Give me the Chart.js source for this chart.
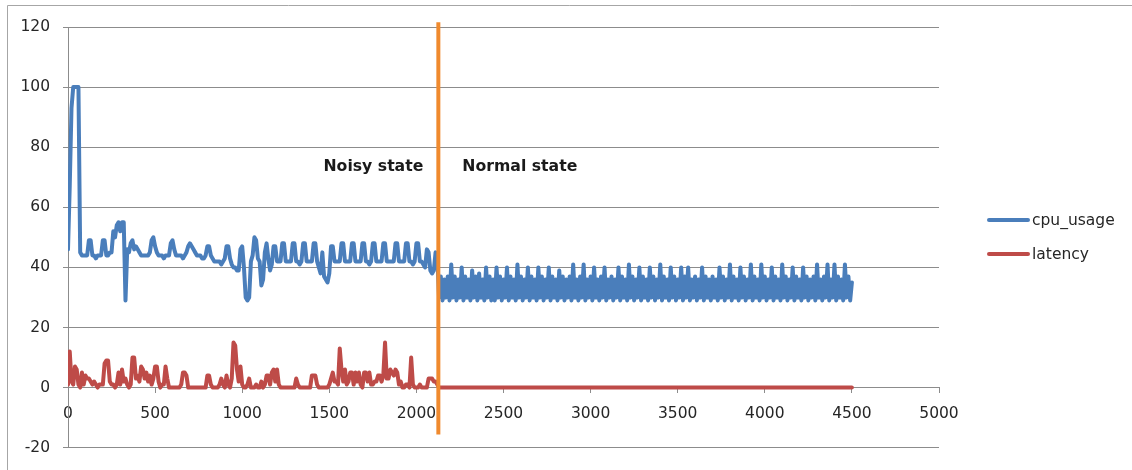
<!DOCTYPE html>
<html>
<head>
<meta charset="utf-8">
<title>cpu_usage / latency</title>
<script src="https://cdn.jsdelivr.net/npm/chart.js@4.4.1/dist/chart.umd.min.js"></script>
<style>
  html, body { margin: 0; padding: 0; background: #ffffff; }
  #wrap { position: relative; width: 1132px; height: 470px; }
  canvas { display: block; }
</style>
</head>
<body>
<div id="wrap"><canvas id="chart" width="1132" height="470"></canvas></div>
<script>
// Samples are taken every 10 ticks, starting at tick 0.
const sampleStep = 10;

// cpu_usage (%), ticks 0 .. 2120 (noisy state)
const cpuNoisy = [
  46, 67, 93, 100, 100, 100, 100, 45, 44, 44, 44, 44, 49, 49, 44, 44, 43, 44, 44, 44,
  49, 49, 44, 44, 45, 45, 52, 50, 54, 55, 52, 55, 55, 29, 46, 45, 48, 49, 46, 47,
  46, 45, 44, 44, 44, 44, 44, 45, 49, 50, 47, 45, 44, 44, 44, 43, 44, 44, 44, 48,
  49, 46, 44, 44, 44, 44, 43, 44, 45, 47, 48, 47, 46, 45, 44, 44, 44, 43, 43, 44,
  47, 47, 44, 43, 42, 42, 42, 42, 41, 42, 43, 47, 47, 43, 41, 40, 40, 39, 39, 46,
  47, 40, 30, 29, 30, 42, 44, 50, 49, 43, 42, 34, 36, 45, 48, 43, 39, 41, 47, 47,
  42, 42, 42, 48, 48, 42, 42, 42, 42, 48, 48, 42, 42, 41, 42, 48, 48, 42, 42, 42,
  42, 48, 48, 42, 40, 38, 45, 37, 36, 35, 38, 47, 47, 42, 42, 42, 42, 48, 48, 42,
  42, 42, 42, 48, 48, 42, 42, 42, 42, 48, 48, 42, 42, 41, 42, 48, 48, 42, 42, 42,
  42, 48, 48, 42, 42, 42, 42, 42, 48, 48, 42, 42, 42, 42, 48, 48, 42, 42, 41, 42,
  48, 48, 42, 42, 41, 40, 46, 45, 39, 38, 39, 45, 44
];

// cpu_usage (%), ticks 2130 .. 4500 (normal state)
const cpuNormal = [
  30, 37, 29, 36, 30, 37, 29, 41, 30, 37, 29, 36, 30, 40, 29, 37, 30, 36, 29, 39,
  30, 37, 29, 38, 30, 36, 29, 40, 30, 37, 29, 36, 29, 40, 30, 37, 29, 36, 30, 40,
  29, 37, 30, 36, 29, 41, 30, 37, 29, 36, 30, 40, 29, 37, 30, 36, 29, 40, 30, 37,
  29, 36, 30, 40, 29, 37, 30, 36, 29, 39, 30, 37, 29, 36, 30, 37, 29, 41, 30, 36,
  29, 37, 30, 41, 29, 36, 30, 37, 29, 40, 30, 36, 29, 37, 30, 40, 29, 36, 30, 37,
  29, 36, 30, 40, 29, 37, 30, 36, 29, 41, 30, 37, 29, 36, 30, 40, 29, 37, 30, 36,
  29, 40, 30, 37, 29, 36, 30, 41, 29, 37, 30, 36, 29, 40, 30, 37, 29, 36, 30, 40,
  29, 37, 30, 40, 29, 36, 30, 37, 29, 36, 30, 40, 29, 37, 30, 36, 29, 37, 30, 36,
  29, 40, 30, 37, 29, 36, 30, 41, 29, 37, 30, 36, 29, 40, 30, 37, 29, 36, 30, 41,
  29, 37, 30, 36, 29, 41, 30, 37, 29, 36, 30, 40, 29, 37, 30, 36, 29, 41, 30, 37,
  29, 36, 30, 40, 29, 37, 30, 36, 29, 40, 30, 37, 29, 36, 30, 37, 29, 41, 30, 36,
  29, 37, 30, 41, 29, 36, 30, 41, 29, 37, 30, 36, 29, 41, 30, 37, 29, 35
];

// latency (ms), ticks 0 .. 2120 (noisy state)
const latencyNoisy = [
  1, 12, 2, 1, 7, 6, 1, 0, 5, 1, 4, 3, 3, 2, 1, 2, 1, 0, 1, 1,
  1, 8, 9, 9, 2, 1, 1, 0, 1, 5, 1, 6, 2, 3, 1, 0, 1, 10, 10, 3,
  4, 2, 7, 6, 3, 5, 2, 4, 1, 3, 7, 7, 2, 0, 1, 1, 7, 3, 0, 0,
  0, 0, 0, 0, 0, 1, 5, 5, 4, 0, 0, 0, 0, 0, 0, 0, 0, 0, 0, 0,
  4, 4, 1, 0, 0, 0, 0, 1, 3, 1, 0, 4, 1, 0, 3, 15, 14, 6, 2, 7,
  1, 0, 0, 1, 3, 0, 0, 0, 1, 0, 0, 2, 0, 1, 4, 4, 1, 5, 6, 2,
  6, 1, 0, 0, 0, 0, 0, 0, 0, 0, 0, 3, 1, 0, 0, 0, 0, 0, 0, 0,
  4, 4, 4, 1, 0, 0, 0, 0, 0, 0, 1, 3, 5, 2, 2, 1, 13, 6, 2, 6,
  1, 2, 5, 5, 1, 5, 2, 5, 1, 0, 5, 5, 2, 5, 1, 1, 2, 2, 4, 4,
  2, 4, 15, 3, 3, 6, 5, 4, 6, 5, 1, 2, 0, 0, 1, 1, 0, 10, 1, 0,
  0, 0, 1, 0, 0, 0, 0, 3, 3, 3, 2, 2, 1
];

// latency (ms), ticks 2130 .. 4500 (normal state)
const latencyNormal = [
  0, 0, 0, 0, 0, 0, 0, 0, 0, 0, 0, 0, 0, 0, 0, 0, 0, 0, 0, 0,
  0, 0, 0, 0, 0, 0, 0, 0, 0, 0, 0, 0, 0, 0, 0, 0, 0, 0, 0, 0,
  0, 0, 0, 0, 0, 0, 0, 0, 0, 0, 0, 0, 0, 0, 0, 0, 0, 0, 0, 0,
  0, 0, 0, 0, 0, 0, 0, 0, 0, 0, 0, 0, 0, 0, 0, 0, 0, 0, 0, 0,
  0, 0, 0, 0, 0, 0, 0, 0, 0, 0, 0, 0, 0, 0, 0, 0, 0, 0, 0, 0,
  0, 0, 0, 0, 0, 0, 0, 0, 0, 0, 0, 0, 0, 0, 0, 0, 0, 0, 0, 0,
  0, 0, 0, 0, 0, 0, 0, 0, 0, 0, 0, 0, 0, 0, 0, 0, 0, 0, 0, 0,
  0, 0, 0, 0, 0, 0, 0, 0, 0, 0, 0, 0, 0, 0, 0, 0, 0, 0, 0, 0,
  0, 0, 0, 0, 0, 0, 0, 0, 0, 0, 0, 0, 0, 0, 0, 0, 0, 0, 0, 0,
  0, 0, 0, 0, 0, 0, 0, 0, 0, 0, 0, 0, 0, 0, 0, 0, 0, 0, 0, 0,
  0, 0, 0, 0, 0, 0, 0, 0, 0, 0, 0, 0, 0, 0, 0, 0, 0, 0, 0, 0,
  0, 0, 0, 0, 0, 0, 0, 0, 0, 0, 0, 0, 0, 0, 0, 0, 0, 0
];

const seriesNames = ['cpu_usage', 'latency'];
const stateLabels = ['Noisy state', 'Normal state'];

// Axis ranges and tick spacing
const xRange = [0, 5000];
const xTickStep = 500;
const yRange = [-20, 120];
const yTickStep = 20;

// Tick where the system switches from the noisy to the normal state
const stateChangeAt = 2126;
const dividerSpan = [-15.6, 121.6];  // vertical extent of the divider, in y units
const stateLabelLevel = 73.6;        // y level of the state captions

const COLORS = {
  cpu: '#4A7EBB',
  latency: '#BE4B48',
  divider: '#F08A2E',
  grid: '#8C8C8C',
  text: '#262626',
  frame: '#A6A6A6'
};
const FONT_FAMILY = '"DejaVu Sans", "Liberation Sans", sans-serif';

const toPoints = (values, startTick) =>
  values.map((v, i) => ({ x: startTick + i * sampleStep, y: v }));

const normalStart = cpuNoisy.length * sampleStep;
const cpuPoints = toPoints(cpuNoisy, 0).concat(toPoints(cpuNormal, normalStart));
const latencyPoints = toPoints(latencyNoisy, 0).concat(toPoints(latencyNormal, normalStart));

// Outer frame of the chart object
const framePlugin = {
  id: 'frame',
  beforeDraw(chart) {
    const { ctx, width, height } = chart;
    ctx.save();
    ctx.fillStyle = '#ffffff';
    ctx.fillRect(0, 0, width, height);
    ctx.strokeStyle = COLORS.frame;
    ctx.lineWidth = 1;
    ctx.beginPath();
    ctx.moveTo(7.5, height);
    ctx.lineTo(7.5, 5.5);
    ctx.lineTo(width, 5.5);
    ctx.stroke();
    ctx.restore();
  }
};

// Divider between the two states, its captions, and the legend
const overlayPlugin = {
  id: 'overlay',
  afterDatasetsDraw(chart) {
    const { ctx, scales: { x, y } } = chart;
    const px = x.getPixelForValue(stateChangeAt);
    ctx.save();
    ctx.strokeStyle = COLORS.divider;
    ctx.lineWidth = 4;
    ctx.beginPath();
    ctx.moveTo(px, y.getPixelForValue(dividerSpan[1]));
    ctx.lineTo(px, y.getPixelForValue(dividerSpan[0]));
    ctx.stroke();

    const ly = y.getPixelForValue(stateLabelLevel);
    ctx.fillStyle = '#1a1a1a';
    ctx.font = 'bold 15.7px ' + FONT_FAMILY;
    ctx.textBaseline = 'middle';
    ctx.textAlign = 'right';
    ctx.fillText(stateLabels[0], px - 15, ly);
    ctx.textAlign = 'left';
    ctx.fillText(stateLabels[1], px + 24, ly);
    ctx.restore();
  },
  afterDraw(chart) {
    const { ctx, chartArea } = chart;
    const colors = [COLORS.cpu, COLORS.latency];
    const x0 = chartArea.right + 50;
    const rowY = [220, 254];
    ctx.save();
    ctx.font = '15.5px ' + FONT_FAMILY;
    ctx.textBaseline = 'middle';
    ctx.textAlign = 'left';
    seriesNames.forEach((name, i) => {
      ctx.strokeStyle = colors[i];
      ctx.lineWidth = 4;
      ctx.lineCap = 'round';
      ctx.beginPath();
      ctx.moveTo(x0, rowY[i]);
      ctx.lineTo(x0 + 39, rowY[i]);
      ctx.stroke();
      ctx.fillStyle = COLORS.text;
      ctx.fillText(name, x0 + 43, rowY[i] + 1);
    });
    ctx.restore();
  }
};

const lineStyle = {
  borderWidth: 4,
  pointRadius: 0,
  pointHoverRadius: 0,
  tension: 0,
  borderJoinStyle: 'round',
  borderCapStyle: 'round',
  fill: false
};

new Chart(document.getElementById('chart'), {
  type: 'line',
  data: {
    datasets: [
      Object.assign({ label: seriesNames[0], data: cpuPoints, borderColor: COLORS.cpu }, lineStyle),
      Object.assign({ label: seriesNames[1], data: latencyPoints, borderColor: COLORS.latency }, lineStyle)
    ]
  },
  options: {
    responsive: false,
    animation: false,
    devicePixelRatio: 1,
    events: [],
    layout: { padding: { left: 0, top: 27, right: 193, bottom: 22 } },
    plugins: {
      legend: { display: false },
      tooltip: { enabled: false }
    },
    scales: {
      x: {
        type: 'linear',
        min: xRange[0],
        max: xRange[1],
        position: { y: 0 },
        ticks: {
          stepSize: xTickStep,
          padding: 12,
          maxRotation: 0,
          autoSkip: false,
          color: COLORS.text,
          font: { family: FONT_FAMILY, size: 15.5 },
          callback: (v) => String(v)
        },
        grid: { drawOnChartArea: false, drawTicks: true, tickLength: 5, color: COLORS.grid },
        border: { display: true, color: COLORS.grid, width: 1 }
      },
      y: {
        type: 'linear',
        min: yRange[0],
        max: yRange[1],
        ticks: {
          stepSize: yTickStep,
          padding: 13,
          color: COLORS.text,
          font: { family: FONT_FAMILY, size: 15.5 },
          callback: (v) => String(v)
        },
        grid: { color: COLORS.grid, tickLength: 5, drawTicks: true },
        border: { display: true, color: COLORS.grid, width: 1 },
        afterFit(scale) { scale.width = 68; }
      }
    }
  },
  plugins: [framePlugin, overlayPlugin]
});
</script>
</body>
</html>
